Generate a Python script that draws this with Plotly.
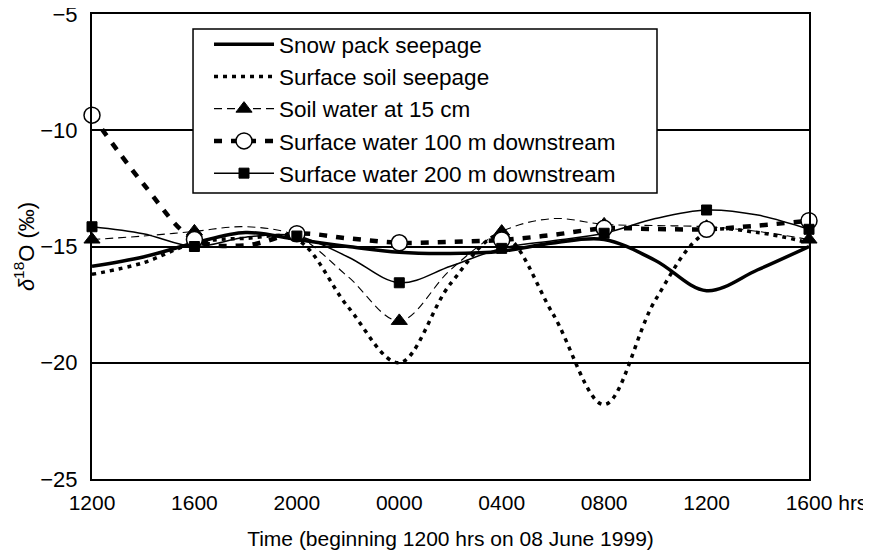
import plotly.graph_objects as go

# Time in hours after 1200 hrs on 08 June 1999
hours = [0, 2, 4, 6, 8, 10, 12, 14, 16, 18, 20, 22, 24, 26, 28]
tick_hours = [0, 4, 8, 12, 16, 20, 24, 28]
tick_labels = ["1200", "1600", "2000", "0000", "0400", "0800", "1200", "\u00a0" * 6 + "1600 hrs"]

snow_pack = [-15.85, -15.45, -14.85, -14.4, -14.7, -15.0, -15.25, -15.3, -15.2, -14.85, -14.7, -15.6, -16.9, -16.0, -15.0]
surface_soil = [-16.2, -15.7, -14.85, -14.65, -14.7, -17.6, -20.0, -16.6, -14.5, -17.9, -21.8, -17.3, -14.4, -14.4, -14.85]
soil_water_15cm = [-14.7, -14.55, -14.35, -14.15, -14.55, -16.3, -18.2, -16.0, -14.36, -13.8, -14.05, -14.1, -14.15, -14.35, -14.7]
surface_100m = [-9.35, -12.3, -14.7, -14.95, -14.45, -14.65, -14.84, -14.8, -14.72, -14.5, -14.22, -14.25, -14.26, -14.1, -13.89]
surface_200m = [-14.15, -14.45, -15.0, -14.6, -14.55, -15.45, -16.56, -15.85, -15.08, -14.75, -14.43, -13.8, -13.43, -13.65, -14.26]

FONT = "Liberation Sans, Arial, sans-serif"

series = [
    dict(name="Snow pack seepage", y=snow_pack, width=3.5, dash="solid", marker=None),
    dict(name="Surface soil seepage", y=surface_soil, width=3.5, dash="4px,5px", marker=None),
    dict(name="Soil water at 15 cm", y=soil_water_15cm, width=1.1, dash="8px,5px",
         marker=dict(symbol="triangle-up", size=14, color="black", line=dict(color="black", width=1))),
    dict(name="Surface water 100 m downstream", y=surface_100m, width=4.5, dash="8px,9px",
         marker=dict(symbol="circle", size=16, color="white", line=dict(color="black", width=1.5))),
    dict(name="Surface water 200 m downstream", y=surface_200m, width=1.5, dash="solid",
         marker=dict(symbol="square", size=10, color="black", line=dict(color="black", width=1))),
]

fig = go.Figure()
for s in series:
    fig.add_trace(go.Scatter(
        x=hours, y=s["y"], mode="lines",
        line=dict(color="black", width=s["width"], dash=s["dash"], shape="spline", smoothing=1),
        showlegend=False, hoverinfo="skip"))
for s in series:
    if s["marker"] is not None:
        mx = [h for h in hours if h in tick_hours]
        my = [v for h, v in zip(hours, s["y"]) if h in tick_hours]
        fig.add_trace(go.Scatter(x=mx, y=my, mode="markers", marker=s["marker"],
                                 showlegend=False, cliponaxis=False))
for s in series:
    mode = "lines+markers" if s["marker"] is not None else "lines"
    kw = dict(marker=s["marker"]) if s["marker"] is not None else {}
    fig.add_trace(go.Scatter(x=[None], y=[None], mode=mode, name=s["name"],
                             line=dict(color="black", width=s["width"], dash=s["dash"]), **kw))

# legend frame (white box over the plot)
fig.add_shape(type="rect", xref="paper", yref="paper",
              x0=0.1409, x1=0.788, y0=0.615, y1=0.9677,
              fillcolor="white", line=dict(color="black", width=1.5), layer="above")

fig.update_layout(
    width=871, height=554,
    margin=dict(l=84, r=70, t=6, b=83),
    paper_bgcolor="white", plot_bgcolor="white",
    font=dict(family=FONT, size=21, color="black"),
    showlegend=True,
    legend=dict(x=0.1632, y=0.9806, xanchor="left", yanchor="top",
                bgcolor="rgba(0,0,0,0)", borderwidth=0,
                font=dict(family=FONT, size=22.5, color="black"),
                itemwidth=60, tracegroupgap=0),
    xaxis=dict(range=[0, 28], tickvals=tick_hours, ticktext=tick_labels,
               showgrid=False, zeroline=False, showline=True, mirror=True,
               linecolor="black", linewidth=2, ticks="", ticklabelstandoff=4,
               tickfont=dict(size=21), automargin=False, ticklabeloverflow="allow",
               title=dict(text="Time (beginning 1200 hrs on 08 June 1999)", font=dict(size=21), standoff=18)),
    yaxis=dict(range=[-25, -5], tickvals=[-25, -20, -15, -10, -5],
               ticktext=["\u221225", "\u221220", "\u221215", "\u221210", "\u22125"],
               showgrid=True, gridcolor="black", gridwidth=1.5, zeroline=False,
               showline=True, mirror=True, linecolor="black", linewidth=2,
               ticks="", ticklabelstandoff=8, tickfont=dict(size=22), automargin=False,
               ticklabeloverflow="allow",
               title=dict(text="<i>\u03b4</i><sup>18</sup>O (\u2030)", font=dict(size=22), standoff=0)),
)

fig.write_html("out.html")
